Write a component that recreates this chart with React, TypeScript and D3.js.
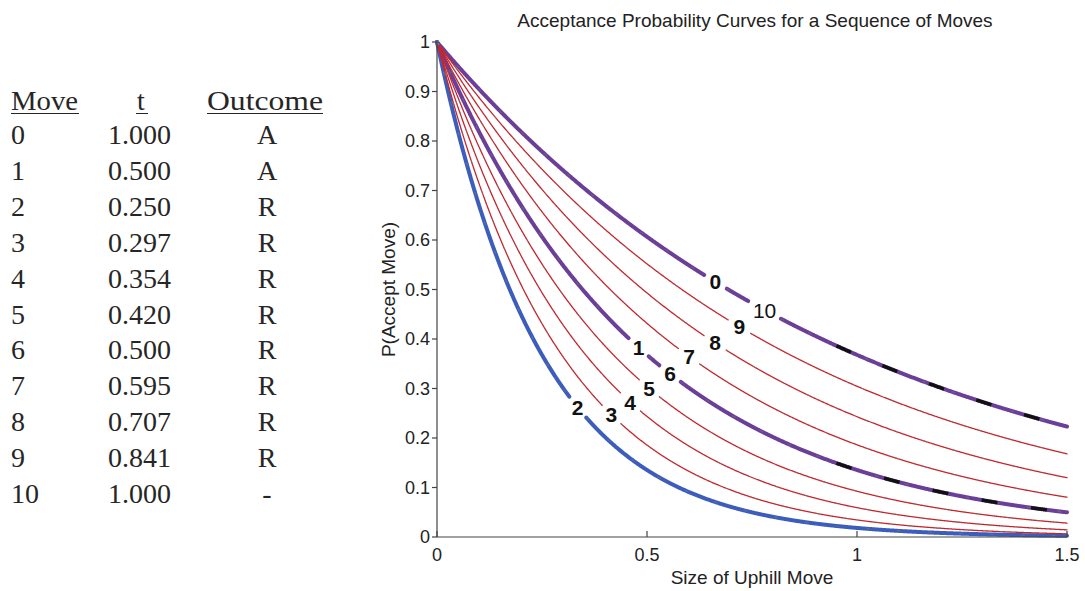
import React from "react";
import * as d3 from "d3";

// Move sequence: temperature used at each move and whether it was accepted
const MOVES = [0, 1, 2, 3, 4, 5, 6, 7, 8, 9, 10];
const TEMPS = [1.0, 0.5, 0.25, 0.297, 0.354, 0.42, 0.5, 0.595, 0.707, 0.841, 1.0];
const TEMP_TEXT = ["1.000", "0.500", "0.250", "0.297", "0.354", "0.420", "0.500", "0.595", "0.707", "0.841", "1.000"];
const OUTCOMES = ["A", "A", "R", "R", "R", "R", "R", "R", "R", "R", "-"];
// where along the x axis each move's curve carries its number
const LABEL_AT = [0.663, 0.48, 0.335, 0.415, 0.46, 0.505, 0.555, 0.6, 0.662, 0.72, 0.78];

const X_TICKS = [0, 0.5, 1, 1.5];
const Y_TICKS = [0, 0.1, 0.2, 0.3, 0.4, 0.5, 0.6, 0.7, 0.8, 0.9, 1];

const W = 1085;
const H = 591;

const PURPLE = "#6b3f98";
const BLUE = "#3c5dbb";
const RED = "#c4262e";

const x = d3.scaleLinear().domain([0, 1.5]).range([437, 1067]);
const y = d3.scaleLinear().domain([0, 1]).range([537, 42]);

const accept = (d: number, t: number) => Math.exp(-d / t);

function fmtTick(v: number) {
  return d3.format("")(+v.toFixed(2));
}

type Seg = [number, number][];

function buildCurves() {
  const groups = d3.group(MOVES, (m) => TEMPS[m]);
  const xs = d3.range(0, 1.5 + 1e-9, 0.0015);
  const out: { t: number; moves: number[]; segs: Seg[]; kind: string }[] = [];
  for (const [t, moves] of groups) {
    const labels = moves.map((m) => ({
      px: x(LABEL_AT[m]),
      py: y(accept(LABEL_AT[m], t)),
      r: m >= 10 ? 18 : 13,
    }));
    const segs: Seg[] = [];
    let cur: Seg = [];
    for (const d of xs) {
      const px = x(d);
      const py = y(accept(d, t));
      const hidden = labels.some((l) => Math.hypot(px - l.px, py - l.py) < l.r);
      if (hidden) {
        if (cur.length > 1) segs.push(cur);
        cur = [];
      } else {
        cur.push([px, py]);
      }
    }
    if (cur.length > 1) segs.push(cur);
    const kind = moves.includes(0) || moves.includes(1) ? "accepted" : moves.includes(2) ? "first" : "rejected";
    out.push({ t, moves, segs, kind });
  }
  return out;
}

export default function App() {
  const curves = buildCurves();
  const line = d3.line<[number, number]>().curve(d3.curveLinear);
  const thick = curves.filter((c) => c.kind !== "rejected");
  const thin = curves.filter((c) => c.kind === "rejected");

  const tableTop = 110;
  const rowGap = 35.9;

  return (
    <svg
      width={W}
      height={H}
      viewBox={`0 0 ${W} ${H}`}
      style={{ position: "absolute", left: 0, top: 0, background: "#fff" }}
    >
      {/* move table */}
      <g fontFamily="'Liberation Serif', 'DejaVu Serif', serif" fontSize={28} fill="#262626">
        <text x={11} y={tableTop} textLength={67} lengthAdjust="spacingAndGlyphs">Move</text>
        <text x={137} y={tableTop}>t</text>
        <text x={207} y={tableTop} textLength={116} lengthAdjust="spacingAndGlyphs">Outcome</text>
        <line x1={11} x2={79} y1={tableTop + 3.5} y2={tableTop + 3.5} stroke="#262626" strokeWidth={1} />
        <line x1={136} x2={148} y1={tableTop + 3.5} y2={tableTop + 3.5} stroke="#262626" strokeWidth={1} />
        <line x1={207} x2={323} y1={tableTop + 3.5} y2={tableTop + 3.5} stroke="#262626" strokeWidth={1} />
        {MOVES.map((m, i) => (
          <g key={m}>
            <text x={11} y={tableTop + 34 + i * rowGap}>{m}</text>
            <text x={108} y={tableTop + 34 + i * rowGap}>{TEMP_TEXT[i]}</text>
            <text x={267} y={tableTop + 34 + i * rowGap} textAnchor="middle">{OUTCOMES[i]}</text>
          </g>
        ))}
      </g>

      {/* acceptance curves */}
      <g fill="none" strokeLinecap="round">
        {thick.map((c) =>
          c.segs.map((s, i) => (
            <path
              key={`k${c.t}-${i}`}
              d={line(s) || ""}
              stroke={c.kind === "first" ? BLUE : PURPLE}
              strokeWidth={4}
            />
          ))
        )}
        {thin.map((c) =>
          c.segs.map((s, i) => (
            <path key={`r${c.t}-${i}`} d={line(s) || ""} stroke={RED} strokeWidth={1.3} />
          ))
        )}
        {/* faint dashed trace along each curve */}
        {curves.map((c) =>
          c.segs.map((s, i) => (
            <path
              key={`d${c.t}-${i}`}
              d={line(s) || ""}
              stroke="#7a7a7a"
              strokeWidth={1}
              strokeDasharray="3 28"
              opacity={0.7}
            />
          ))
        )}
        {/* darker dashes on the accepted-temperature curves */}
        {curves
          .filter((c) => c.kind === "accepted")
          .map((c) =>
            c.segs.map((s, i) => (
              <path
                key={`b${c.t}-${i}`}
                d={line(s.filter((p) => p[0] > x(0.95))) || ""}
                stroke="#111"
                strokeWidth={3.5}
                strokeDasharray="16 34"
                strokeLinecap="butt"
              />
            ))
          )}
      </g>

      {/* curve labels */}
      <g fontFamily="'Liberation Sans', Arial, sans-serif" fontSize={21} fill="#111" textAnchor="middle">
        {MOVES.map((m) => (
          <text
            key={m}
            x={x(LABEL_AT[m])}
            y={y(accept(LABEL_AT[m], TEMPS[m])) + 7.5}
            fontWeight={m >= 10 ? 400 : 700}
          >
            {m}
          </text>
        ))}
      </g>

      {/* axes */}
      <g stroke="#444" strokeWidth={1.2}>
        <line x1={x(0)} x2={x(0)} y1={y(0)} y2={y(1)} />
        <line x1={x(0)} x2={x(1.5)} y1={y(0)} y2={y(0)} />
        {Y_TICKS.map((v) => (
          <line key={`yt${v}`} x1={x(0) - 5} x2={x(0)} y1={y(v)} y2={y(v)} />
        ))}
        {X_TICKS.map((v) => (
          <line key={`xt${v}`} x1={x(v)} x2={x(v)} y1={y(0)} y2={y(0) - 6} />
        ))}
      </g>
      <g fontFamily="'Liberation Sans', Arial, sans-serif" fontSize={18} fill="#222">
        {Y_TICKS.map((v) => (
          <text key={`yl${v}`} x={x(0) - 7} y={y(v) + 6} textAnchor="end">
            {fmtTick(v)}
          </text>
        ))}
        {X_TICKS.map((v) => (
          <text key={`xl${v}`} x={x(v)} y={561} textAnchor="middle">
            {fmtTick(v)}
          </text>
        ))}
        <text x={752} y={584} textAnchor="middle" fontSize={19}>Size of Uphill Move</text>
        <text transform={`translate(395, ${(y(0) + y(1)) / 2}) rotate(-90)`} textAnchor="middle" fontSize={19}>
          P(Accept Move)
        </text>
        <text x={755} y={27} textAnchor="middle" fontSize={19}>
          Acceptance Probability Curves for a Sequence of Moves
        </text>
      </g>
    </svg>
  );
}
